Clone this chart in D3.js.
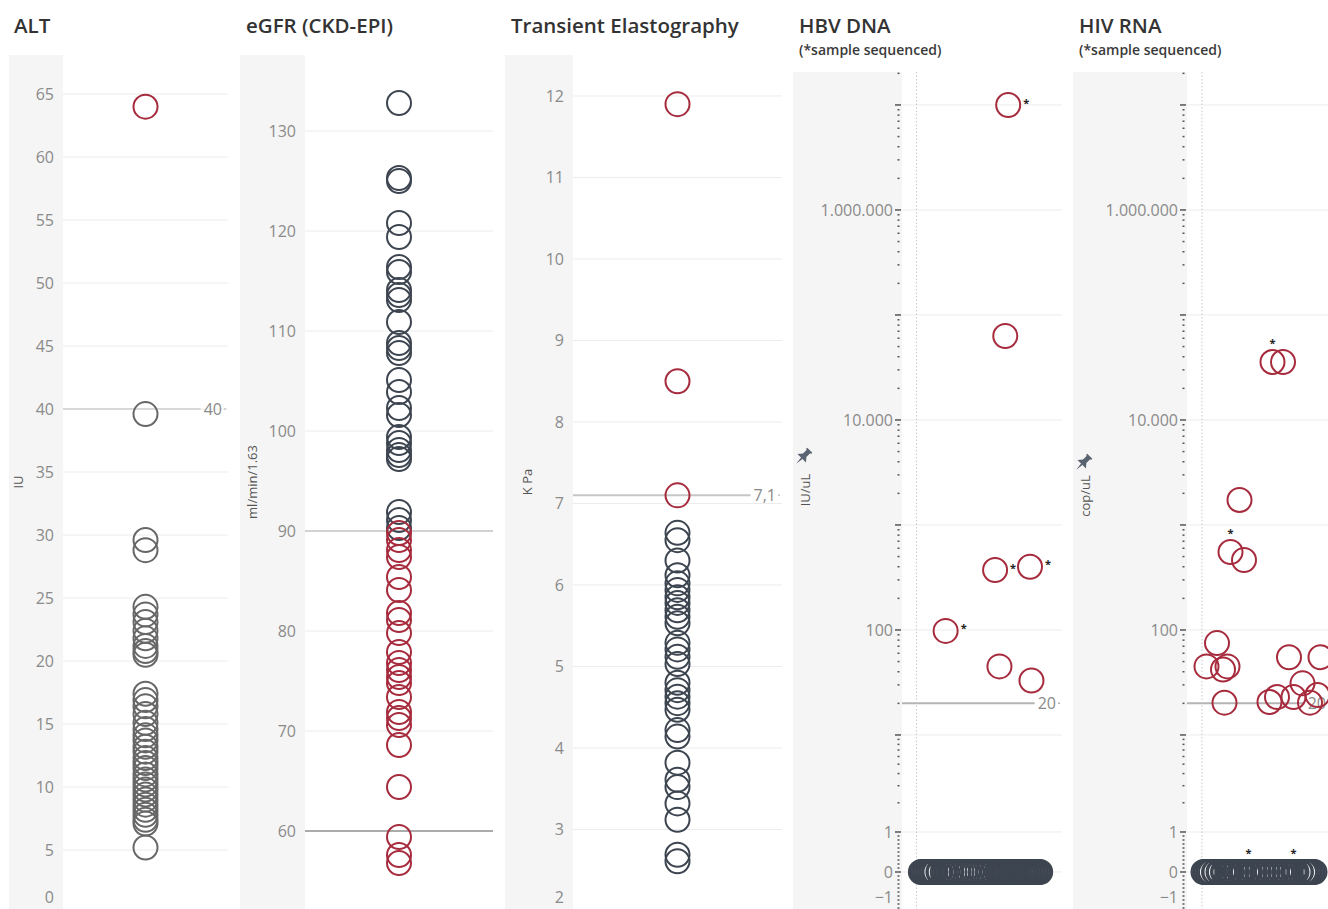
<!DOCTYPE html>
<html><head><meta charset="utf-8">
<script src="https://cdn.jsdelivr.net/npm/d3@7"></script>
<style>
body{margin:0;background:#fff;overflow:hidden}
svg{display:block}
text{font-family:"Open Sans",sans-serif}
</style>
</head><body>
<svg id="c" width="1328" height="909"></svg>
<script>
// ---------------- DATA ----------------
const altValues = [64, 39.6, 29.6, 28.8, 24.3, 23.7, 23.1, 22.4, 21.8, 21.2, 20.8, 20.5,
  17.4, 16.9, 16.4, 15.8, 15.1, 14.6, 14.1, 13.7, 13.2, 12.8, 12.3, 11.9, 11.5, 11.0,
  10.6, 10.2, 9.8, 9.4, 9.0, 8.6, 8.2, 7.8, 7.4, 7.1, 5.2];
const altTicks = [0,5,10,15,20,25,30,35,40,45,50,55,60,65];
const altLimit = 40;

const egfrValues = [132.8, 125.3, 125.0, 120.8, 119.4, 116.4, 115.9, 114.1, 113.6, 113.1,
  110.9, 108.8, 108.3, 107.8, 105.1, 103.9, 102.3, 101.6, 99.4, 98.8, 98.1, 97.6, 97.2,
  91.9, 91.1, 90.3, 89.8, 89.1, 88.1, 87.4, 85.4, 84.1, 81.8, 81.1, 79.8, 77.9, 76.8,
  76.1, 75.4, 74.8, 73.4, 71.9, 71.3, 70.6, 68.6, 64.4, 59.4, 57.6, 56.8];
const egfrTicks = [60,70,80,90,100,110,120,130];
const egfrRefs = [90, 60];

const teValues = [11.9, 8.5, 7.1, 6.64, 6.55, 6.3, 6.12, 6.02, 5.94, 5.85, 5.78, 5.69,
  5.61, 5.53, 5.29, 5.21, 5.12, 5.03, 4.8, 4.71, 4.63, 4.55, 4.47, 4.22, 4.14, 3.82,
  3.61, 3.52, 3.32, 3.12, 2.69, 2.61];
const teTicks = [2,3,4,5,6,7,8,9,10,11,12];
const teLimit = 7.1;

// HBV DNA (IU/uL): detectable samples (x = sample order, value, sequenced flag)
const hbvPosX   = [63, 61, 54, 78, 20, 57, 79];
const hbvPosVal = [10000000, 63000, 372, 400, 98, 45, 33];
const hbvPosSeq = [1, 0, 1, 1, 1, 0, 0];
// undetectable samples (value 0)
const hbvZeroX  = [3,4,5,6,7,8,9,10,11,12,13,15,16,18,19,21,23,24,26,28,29,31,33,35,36,38,40,
  42,44,45,47,49,50,52,53,55,56,57,58,59,60,61,62,63,64,65,66,67,68,69,70,71,72,73,74,75,
  76,77,78,79,80,81,82,83,84,85];
const hbvLimit = 20;

// HIV RNA (cop/uL)
const hivPosX   = [47, 54, 25, 19, 28, 10, 3, 14, 17, 15, 58, 79, 45, 50, 61, 67, 72, 77];
const hivPosVal = [35600, 35600, 1730, 553, 464, 75, 45, 42, 45, 20.3, 55, 55, 20.6, 23, 23, 31, 20.3, 24];
const hivPosSeq = [1, 0, 0, 1, 0, 0, 0, 0, 0, 0, 0, 0, 0, 0, 0, 0, 0, 0];
const hivZeroX  = [1,2,3,4,5,6,8,9,11,12,14,15,17,18,19,20,22,23,25,26,27,28,30,31,32,34,35,
  37,38,40,41,43,44,46,47,49,50,52,53,55,56,58,59,61,62,63,65,66,68,69,70,71,72,73,74,75];
const hivZeroSeq= [0,0,0,0,0,0,0,0,0,0,0,0,0,0,0,0,0,0,0,0,0,0,0,1,0,0,0,0,0,0,0,0,0,0,0,0,0,0,0,0,0,0,0,1,0,0,0,0,0,0,0,0,0,0,0,0];
const hivLimit = 20;

const logMajor = [0, 1, 10, 100, 1e3, 1e4, 1e5, 1e6, 1e7];
const logLabels = [-1, 0, 1, 100, 1e4, 1e6];

// ---------------- DRAW ----------------
const W = 1328, H = 909;
const svg = d3.select('#c');
const RED = "#a62b3d", SLATE = "#3d4550", GREY = "#676767";
const BAND = "#f5f5f5", GRID = "#ececec", TICKTXT = "#8a8a8a";
const TICKFS = 16;
const loc = d3.formatLocale({decimal: ",", thousands: ".", grouping: [3], currency: ["", ""]});
const fmtInt = loc.format(",d");
const fmtDec = loc.format(",.1f");

function title(x, text, sub) {
  svg.append('text').attr('x', x).attr('y', 33).attr('font-size', 20.5).attr('font-weight', 600)
    .attr('fill', '#333').text(text);
  if (sub) svg.append('text').attr('x', x).attr('y', 55).attr('font-size', 14).attr('font-weight', 600)
    .attr('fill', '#3a3a3a').text(sub);
}
function band(x0, x1, top) {
  svg.append('rect').attr('x', x0).attr('y', top).attr('width', x1 - x0).attr('height', H - top).attr('fill', BAND);
}
function axisTitle(x, yc, text) {
  svg.append('text').attr('transform', `translate(${x},${yc}) rotate(-90)`).attr('text-anchor', 'middle')
    .attr('dy', '0.35em').attr('font-size', 13).attr('fill', '#555').text(text);
}
function pin(x, y) {
  svg.append('path').attr('transform', `translate(${x},${y}) rotate(45) scale(1.2)`)
    .attr('d', 'M-3,-8 L3,-8 L3,-6.5 L2,-6.5 L2,-2 L5,1.5 L-5,1.5 L-2,-2 L-2,-6.5 L-3,-6.5 Z M-0.8,1.5 L0,8 L0.8,1.5 Z')
    .attr('fill', '#5a6470');
}
function grid(y, ticks, x0, x1) {
  svg.append('g').selectAll('line').data(ticks).join('line')
    .attr('x1', x0).attr('x2', x1).attr('y1', d => y(d)).attr('y2', d => y(d))
    .attr('stroke', GRID).attr('stroke-width', 1);
}
function tickLabels(y, ticks, xr, fmt) {
  svg.append('g').selectAll('text').data(ticks).join('text')
    .attr('x', xr).attr('y', d => Math.min(y(d), H - 12)).attr('dy', '0.35em')
    .attr('text-anchor', 'end').attr('font-size', TICKFS).attr('fill', TICKTXT).text(fmt);
}
function refLine(y, v, x0, x1, label, color) {
  const yy = y(v);
  if (label) {
    const t = svg.append('text').attr('x', x1 - 6).attr('y', yy).attr('dy', '0.35em')
      .attr('text-anchor', 'end').attr('font-size', TICKFS).attr('fill', TICKTXT).text(label);
    const w = t.node().getComputedTextLength();
    svg.insert('line', 'text').attr('x1', x0).attr('x2', x1 - 9 - w).attr('y1', yy).attr('y2', yy)
      .attr('stroke', color).attr('stroke-width', 2);
    svg.append('line').attr('x1', x1 - 4).attr('x2', x1 - 2).attr('y1', yy).attr('y2', yy)
      .attr('stroke', color).attr('stroke-width', 1.5);
  } else {
    svg.append('line').attr('x1', x0).attr('x2', x1).attr('y1', yy).attr('y2', yy)
      .attr('stroke', color).attr('stroke-width', 2);
  }
}
function dots(values, cx, cy, color) {
  svg.append('g').selectAll('circle').data(values).join('circle')
    .attr('cx', cx).attr('cy', cy).attr('r', 12)
    .attr('fill', 'none').attr('stroke', color).attr('stroke-width', 2);
}

// ---- Panel 1: ALT ----
{
  const bx0 = 9, bx1 = 63, px1 = 228, top = 55;
  title(14, 'ALT');
  band(bx0, bx1, top);
  const y = d3.scaleLinear().domain([0, 68.1]).range([913, top]);
  const x = d3.scalePoint().domain(['ALT']).range([bx1, px1]).padding(0.5);
  grid(y, altTicks, bx1, px1);
  tickLabels(y, altTicks, bx1 - 9, d => d);
  axisTitle(18, 482, 'IU');
  refLine(y, altLimit, bx1, px1, '40', '#c6c6c6');
  dots(altValues, x('ALT'), d => y(d), d => d > altLimit ? RED : GREY);
}

// ---- Panel 2: eGFR ----
{
  const bx0 = 240, bx1 = 305, px1 = 493, top = 55;
  title(246, 'eGFR (CKD-EPI)');
  band(bx0, bx1, top);
  const y = d3.scaleLinear().domain([52.2, 137.6]).range([909, top]);
  const x = d3.scalePoint().domain(['eGFR']).range([bx1, px1]).padding(0.5);
  grid(y, egfrTicks, bx1, px1);
  tickLabels(y, egfrTicks, bx1 - 9, d => d);
  axisTitle(252, 482, 'ml/min/1.63');
  refLine(y, egfrRefs[0], bx1, px1, null, '#d2d2d2');
  refLine(y, egfrRefs[1], bx1, px1, null, '#ababab');
  dots(egfrValues, x('eGFR'), d => y(d), d => d < 90 ? RED : SLATE);
}

// ---- Panel 3: Transient Elastography ----
{
  const bx0 = 505, bx1 = 573, px1 = 782, top = 55;
  title(511, 'Transient Elastography');
  band(bx0, bx1, top);
  const y = d3.scaleLinear().domain([2, 12.503]).range([911, top]);
  const x = d3.scalePoint().domain(['TE']).range([bx1, px1]).padding(0.5);
  grid(y, teTicks, bx1, px1);
  tickLabels(y, teTicks, bx1 - 9, d => d);
  axisTitle(527, 482, 'K Pa');
  refLine(y, teLimit, bx1, px1, fmtDec(teLimit), '#c6c6c6');
  dots(teValues, x('TE'), d => y(d), d => d >= teLimit ? RED : SLATE);
}

// ---- symmetric-log transform for panels 4-5 ----
function symT(v) {
  const a = Math.abs(v), s = v < 0 ? -1 : 1;
  let t;
  if (a <= 1) t = a * 0.381;
  else if (a <= 10) t = 0.381 + 0.924 * Math.log10(a);
  else t = 0.305 + Math.log10(a);
  return s * t;
}
const logMinor = [];
for (let d = 1; d <= 1e7; d *= 10) for (let k = 2; k <= 9; k++) if (k * d <= 2.06e7) logMinor.push(k * d);
for (let i = -9; i <= 9; i++) if (i !== 0) logMinor.push(i / 10);

function logPanel(o) {
  const top = 72;
  title(o.tx, o.title, '(*sample sequenced)');
  band(o.bx0, o.bx1, top);
  const lin = d3.scaleLinear().domain([symT(-1), symT(2.06e7)]).range([912, top]);
  const y = v => lin(symT(v));
  const x = d3.scaleLinear().domain([-10, 100]).range([o.bx1, o.px1x]);
  grid(y, logMajor, o.bx1, o.px1);
  svg.append('line').attr('x1', x(0)).attr('x2', x(0)).attr('y1', top).attr('y2', H)
    .attr('stroke', '#c8c8c8').attr('stroke-width', 1).attr('stroke-dasharray', '1.5,2');
  svg.append('g').selectAll('line').data(logMajor.concat([-1])).join('line')
    .attr('x1', o.bx1 - 7).attr('x2', o.bx1 - 1).attr('y1', d => y(d)).attr('y2', d => y(d))
    .attr('stroke', '#555').attr('stroke-width', 1.5);
  svg.append('g').selectAll('line').data(logMinor).join('line')
    .attr('x1', o.bx1 - 4.5).attr('x2', o.bx1 - 2.5).attr('y1', d => y(d)).attr('y2', d => y(d))
    .attr('stroke', '#555').attr('stroke-width', 1.5);
  tickLabels(y, logLabels, o.bx1 - 9, d => fmtInt(d));
  axisTitle(o.ax, o.ay, o.unit);
  pin(o.ax - 2, o.ay - 33);
  refLine(y, o.limit, o.bx1, o.px1, String(o.limit), '#b4b4b4');
  const g = svg.append('g');
  g.selectAll('circle.z').data(o.zeroX).join('circle').attr('class', 'z')
    .attr('cx', d => x(d)).attr('cy', y(0)).attr('r', 12)
    .attr('fill', 'none').attr('stroke', SLATE).attr('stroke-width', 2);
  const pos = o.posX.map((px, i) => ({x: px, v: o.posVal[i], s: o.posSeq[i]}));
  g.selectAll('circle.p').data(pos).join('circle').attr('class', 'p')
    .attr('cx', d => x(d.x)).attr('cy', d => y(d.v)).attr('r', 12)
    .attr('fill', 'none').attr('stroke', RED).attr('stroke-width', 2);
  const stars = pos.filter(d => d.s).concat(o.zeroX.map((zx, i) => ({x: zx, v: 0, s: o.zeroSeq ? o.zeroSeq[i] : 0})).filter(d => d.s));
  svg.append('g').selectAll('text').data(stars).join('text')
    .attr('x', d => x(d.x) + o.sdx).attr('y', d => y(d.v) + o.sdy).attr('dy', '0.6em')
    .attr('text-anchor', 'middle').attr('font-size', 11).attr('font-weight', 700).attr('fill', '#222').text('*');
}

logPanel({tx: 799, title: 'HBV DNA', bx0: 793, bx1: 902, px1: 1062, px1x: 1062, ax: 805, ay: 490, unit: 'IU/uL',
  limit: hbvLimit, posX: hbvPosX, posVal: hbvPosVal, posSeq: hbvPosSeq, zeroX: hbvZeroX, sdx: 18, sdy: -5});
logPanel({tx: 1079, title: 'HIV RNA', bx0: 1073, bx1: 1187, px1: 1332, px1x: 1352, ax: 1085, ay: 496, unit: 'cop/uL',
  limit: hivLimit, posX: hivPosX, posVal: hivPosVal, posSeq: hivPosSeq, zeroX: hivZeroX, zeroSeq: hivZeroSeq, sdx: 0, sdy: -22});
</script>
</body></html>
